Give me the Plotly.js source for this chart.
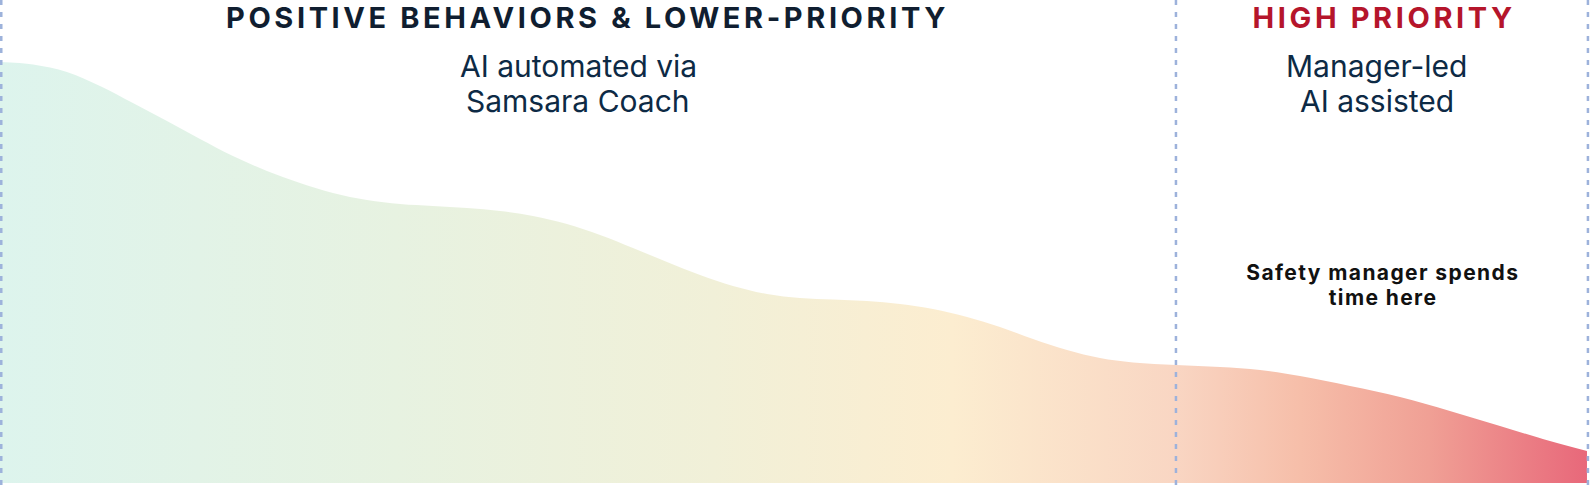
<!DOCTYPE html>
<html>
<head>
<meta charset="utf-8">
<script src="https://cdn.plot.ly/plotly-3.0.1.min.js"></script>
<style>
  html, body { margin: 0; padding: 0; background: #ffffff; }
  #chart { width: 1590px; height: 485px; }
  g.annotation[data-index="0"] text, g.annotation[data-index="1"] text { letter-spacing: 3.6px; }
  g.annotation[data-index="6"] text, g.annotation[data-index="7"] text { letter-spacing: 1.4px; }
</style>
</head>
<body>
<div id="chart"></div>
<script>
// Position along the coaching spectrum (0-100) and relative event volume (0-100)
const positions = [0, 2.08, 4.21, 6.29, 8.36, 10.50, 12.58, 14.65, 16.79, 18.87, 20.94, 23.08, 25.16, 27.23, 29.37,
                   31.45, 33.52, 35.66, 37.74, 39.81, 41.95, 44.03, 46.10, 48.24, 50.31, 52.39, 54.53, 56.60, 58.68,
                   60.82, 62.89, 64.97, 67.11, 69.18, 71.26, 73.96, 76.73, 79.25, 81.76, 84.91, 88.05, 91.19, 94.34,
                   97.48, 99.81];
const volumes   = [87.16, 86.65, 85.09, 82.19, 78.67, 74.95, 71.22, 67.70, 64.60, 62.11, 60.04, 58.59, 57.76, 57.35, 56.94,
                   56.31, 55.28, 53.62, 51.35, 48.65, 45.76, 43.06, 40.79, 39.13, 38.30, 37.99, 37.68, 37.06, 36.02,
                   34.37, 32.30, 29.81, 27.54, 25.88, 24.95, 24.43, 24.02, 23.40, 22.15, 20.08, 17.81, 14.91, 11.80,
                   8.70, 6.63];

// Section dividers (positions on the same 0-100 scale)
const dividers = [0.08, 73.96, 99.87];

// Texts
const leftHeading = "POSITIVE BEHAVIORS & LOWER-PRIORITY";
const leftSubLines = ["AI automated via", "Samsara Coach"];
const rightHeading = "HIGH PRIORITY";
const rightSubLines = ["Manager-led", "AI assisted"];
const noteLines = ["Safety manager spends", "time here"];

const gradientStops = [
  [0.00, '#ddf4ed'],
  [0.25, '#e7f2e1'],
  [0.45, '#f1f0d8'],
  [0.60, '#fcedd0'],
  [0.74, '#f9d6c3'],
  [0.82, '#f6bea9'],
  [0.90, '#f0a095'],
  [1.00, '#e8687a']
];

const trace = {
  x: positions,
  y: volumes,
  type: 'scatter',
  mode: 'lines',
  line: { shape: 'spline', smoothing: 1, width: 0, color: 'rgba(0,0,0,0)' },
  fill: 'tozeroy',
  fillgradient: { type: 'horizontal', colorscale: gradientStops },
  hoverinfo: 'skip',
  showlegend: false
};

const shapes = dividers.map(d => ({
  type: 'line', xref: 'x', yref: 'paper', x0: d, x1: d, y0: 0, y1: 1,
  line: { color: '#9db2db', width: 2.5, dash: '5px,7px' }, layer: 'above'
}));

function ann(text, x, ypx, font) {
  return { text: text, x: x, y: 1 - ypx / 485, xref: 'x', yref: 'paper',
           xanchor: 'center', yanchor: 'middle', showarrow: false, font: font };
}
const headFont = c => ({ family: 'Inter, sans-serif', size: 29, color: c, weight: 700 });
const subFont = { family: 'Inter, sans-serif', size: 30, color: '#0d2a45' };
const noteFont = { family: 'Inter, sans-serif', size: 21, color: '#111111', weight: 700 };

const annotations = [
  ann(leftHeading, 36.95, 18, headFont('#101e30')),
  ann(rightHeading, 87.05, 18, headFont('#b5152b')),
  ann(leftSubLines[0], 36.37, 66, subFont),
  ann(leftSubLines[1], 36.37, 101, subFont),
  ann(rightSubLines[0], 86.6, 66, subFont),
  ann(rightSubLines[1], 86.6, 101, subFont),
  ann(noteLines[0], 86.95, 272, noteFont),
  ann(noteLines[1], 86.95, 297, noteFont)
];

const layout = {
  width: 1590, height: 485,
  margin: { l: 0, r: 0, t: 0, b: 0, pad: 0 },
  paper_bgcolor: '#ffffff', plot_bgcolor: '#ffffff',
  xaxis: { range: [0, 100], visible: false, fixedrange: true },
  yaxis: { range: [-0.414, 100], visible: false, fixedrange: true },
  shapes: shapes,
  annotations: annotations,
  showlegend: false
};

Plotly.newPlot('chart', [trace], layout, { displayModeBar: false, staticPlot: true });
</script>
</body>
</html>
